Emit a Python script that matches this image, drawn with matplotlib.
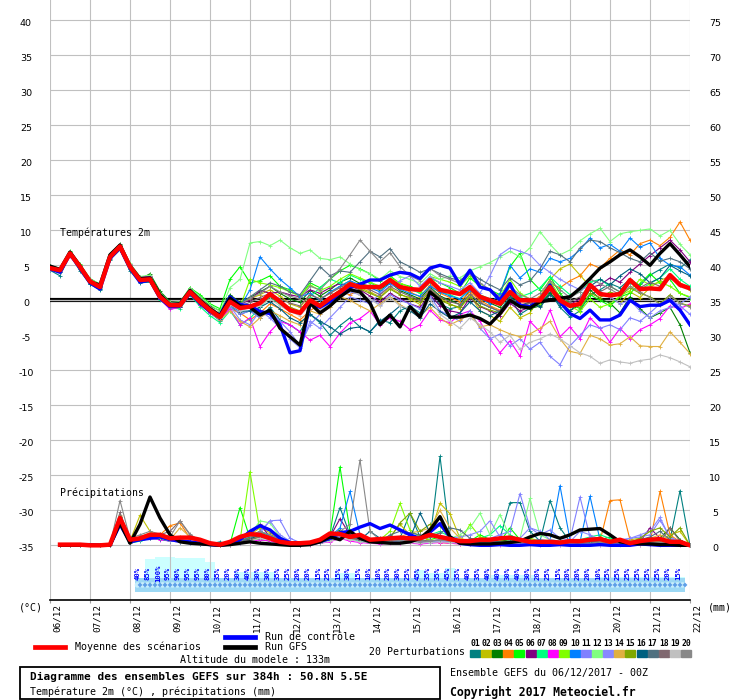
import numpy as np
import matplotlib.pyplot as plt
from matplotlib.lines import Line2D
from matplotlib.patches import Rectangle
from matplotlib.transforms import ScaledTranslation

MONO = "DejaVu Sans Mono"

# time axis: GEFS run of 06/12/2017 00Z, one step every 6h up to 384h
hours = np.arange(0, 385, 6)
rain_hours = hours[1:]
day_hours = np.arange(0, 385, 24)
dates = ["06/12", "07/12", "08/12", "09/12", "10/12", "11/12", "12/12", "13/12", "14/12",
         "15/12", "16/12", "17/12", "18/12", "19/12", "20/12", "21/12", "22/12"]

# temperature 2m (degC)
mean_t = [4.6, 4.3, 6.7, 4.8, 2.7, 1.9, 6.2, 7.7,
          4.8, 2.9, 3.0, 0.5, -0.7, -0.7, 1.2, -0.2,
          -1.4, -2.4, -0.2, -1.1, -0.9, -0.4, 0.9, -0.2,
          -1.4, -1.8, 0.0, -0.8, 0.3, 1.2, 2.3, 1.9,
          1.9, 1.9, 2.9, 1.9, 1.6, 1.5, 2.9, 1.5,
          1.2, 0.9, 1.9, 0.5, 0.0, -0.5, 1.2, 0.0,
          0.0, 0.0, 1.9, 0.0, -0.8, -0.5, 2.2, 0.9,
          0.7, 0.9, 2.9, 1.6, 1.7, 1.6, 3.6, 2.2,
          1.7]
ctrl_t = [4.5, 4.0, 6.6, 4.6, 2.5, 1.6, 6.0, 7.5,
          4.6, 2.6, 2.9, 0.3, -0.9, -0.8, 1.0, -0.4,
          -1.6, -2.1, 0.5, -0.6, -0.8, -1.6, -1.9, -3.5,
          -7.5, -7.2, -0.5, -1.0, -0.2, 1.0, 1.8, 2.3,
          2.9, 2.9, 3.6, 4.0, 3.8, 3.1, 4.6, 5.0,
          4.6, 2.2, 4.3, 1.9, 1.5, 0.0, 2.4, -0.7,
          -0.9, 0.0, 2.2, -0.2, -1.9, -2.6, -1.4, -2.8,
          -2.8, -2.1, 0.0, -0.9, -0.7, -0.7, 0.0, -1.4,
          -3.5]
gfs_t = [4.9, 4.4, 6.9, 4.9, 2.6, 2.2, 6.5, 7.9,
         4.9, 3.1, 3.2, 0.8, -0.6, -0.5, 1.4, 0.0,
         -1.2, -2.2, 0.3, -0.8, -1.0, -2.1, -1.4, -4.0,
         -5.2, -6.4, -0.4, -1.8, -0.8, 0.5, 1.5, 1.2,
         -0.4, -3.5, -2.1, -3.8, -0.9, -2.4, 1.2, 0.0,
         -2.4, -2.4, -2.1, -2.6, -3.4, -1.9, 0.0, -0.9,
         -1.1, -0.2, 0.0, 0.3, 0.5, 1.7, 3.1, 4.6,
         5.5, 6.5, 7.2, 6.2, 5.0, 6.7, 8.1, 6.5,
         4.8]

t01 = [4.3, 3.5, 6.5, 4.2, 2.3, 1.5, 5.8, 7.2,
       4.2, 2.5, 2.6, 0.2, -1.0, -0.9, 0.9, -0.6,
       -1.8, -2.9, -0.8, -2.0, -1.5, -2.5, -1.0, -2.8,
       -3.5, -4.5, -2.0, -3.2, -5.0, -3.6, -2.5, -3.8,
       -4.5, -2.8, -3.2, -1.5, -0.8, -1.8, 0.4, -0.5,
       -1.2, -0.9, 0.8, -0.4, -1.0, -1.6, 0.5, -2.0,
       -1.1, -0.6, 1.2, -1.0, -2.4, -1.5, 0.8, 1.5,
       2.4, 1.8, 3.0, 2.1, 3.6, 4.4, 5.2, 4.6,
       5.8]
t02 = [4.8, 4.5, 6.8, 5.0, 3.0, 2.2, 6.4, 7.9,
       5.0, 3.2, 3.3, 0.8, -0.3, -0.4, 1.5, 0.2,
       -1.0, -2.0, 0.3, -0.6, 0.2, 0.8, 1.5, 0.6,
       -0.5, -1.0, 0.8, 0.2, 1.0, 2.0, 2.8, 1.8,
       1.2, 0.5, 1.8, 0.9, 0.2, -0.6, 1.5, 0.3,
       -0.5, -1.2, 0.8, -1.5, -2.2, -3.0, -1.0, -2.5,
       -1.8, 0.5, 3.0, 4.5, 5.2, 3.6, 2.0, 1.0,
       0.5, -0.5, 1.2, 0.4, 1.8, 2.8, 3.5, 2.5,
       1.5]
t03 = [4.7, 4.2, 6.6, 4.9, 2.8, 2.0, 6.3, 7.6,
       4.7, 3.0, 3.8, 1.3, -0.2, -0.6, 1.8, 0.5,
       -0.8, -1.5, 0.8, -0.3, 0.4, 1.2, 2.0, 1.0,
       0.2, -0.3, 1.4, 0.6, 1.5, 2.6, 3.2, 2.4,
       2.0, 1.5, 2.5, 1.4, 0.8, 0.2, 1.9, 0.6,
       0.0, -0.6, 1.5, 0.2, -0.4, -1.0, 0.8, -0.5,
       -1.2, -0.8, 1.0, -0.2, -1.5, -0.6, 1.5, 0.2,
       -0.4, -1.8, 0.5, -1.2, -2.5, -1.8, -1.0, -3.5,
       -7.5]
t04 = [4.5, 4.4, 6.7, 4.7, 2.6, 1.8, 6.1, 7.7,
       4.9, 2.8, 2.9, 0.4, -0.8, -0.9, 1.0, -0.5,
       -1.5, -2.6, -1.2, -1.8, -2.8, -1.8, -0.5, -1.2,
       -2.0, -2.8, -1.5, -0.5, 0.4, 1.2, 0.8, 1.5,
       2.2, 1.6, 2.8, 1.8, 1.2, 0.5, 2.2, 1.0,
       0.4, -0.2, 1.2, 0.0, -0.8, -1.4, 0.2, -0.6,
       -0.4, 0.6, 2.4, 1.8, 2.8, 3.5, 5.2, 4.6,
       6.0, 7.2, 6.5, 8.1, 8.6, 7.8, 9.0, 11.2,
       8.6]
t05 = [4.9, 4.6, 7.0, 5.2, 3.1, 2.3, 6.6, 8.0,
       5.2, 3.3, 3.5, 0.9, -0.5, -0.3, 1.8, 0.8,
       -0.5, -1.2, 3.0, 4.8, 2.5, 2.8, 3.5, 2.0,
       1.5, 0.5, 2.5, 1.8, 3.0, 4.2, 5.0, 4.5,
       3.8, 2.8, 3.5, 2.4, 2.0, 1.2, 3.2, 2.5,
       1.8, 1.0, 3.2, 2.0, 1.5, 0.8, 4.8, 6.7,
       3.0, 1.5, 3.4, 1.0, -0.5, -1.2, 0.8, 0.0,
       -0.8, 0.5, 1.0, 2.4, 3.8, 2.5, 3.0, 1.0,
       0.4]
t06 = [4.6, 4.2, 6.6, 4.7, 2.7, 1.9, 6.2, 7.6,
       4.8, 2.9, 3.1, 0.6, -0.6, -0.6, 1.3, -0.1,
       -1.2, -2.2, 0.0, -0.5, 0.0, 1.4, 1.0, 1.2,
       0.8, 0.5, 1.5, 1.0, 1.8, 2.4, 2.0, 1.5,
       0.6, -0.2, 1.0, 0.2, -0.5, -1.0, 0.8, -0.8,
       -1.5, -1.8, 0.4, -0.9, -1.5, -2.2, -0.4, -1.5,
       -1.0, -0.2, 1.5, 0.4, -0.6, 0.2, 1.8, 2.2,
       3.2, 2.6, 4.0, 5.2, 6.4, 7.5, 8.6, 7.2,
       5.5]
t07 = [4.4, 4.0, 6.5, 4.5, 2.4, 1.6, 6.0, 7.5,
       4.5, 2.6, 2.7, 0.1, -1.1, -1.2, 0.8, -0.9,
       -2.2, -3.2, -1.5, -3.5, -2.6, -1.0, 0.5, -0.6,
       -1.2, -1.8, 0.5, 1.8, 3.0, 2.5, 3.6, 3.0,
       2.5, 1.8, 3.0, 2.2, 1.6, 1.0, 2.6, 1.2,
       0.8, 0.2, 1.8, 0.8, 0.2, -0.5, 2.0, 0.5,
       1.0, 1.8, 3.4, 2.0, 0.8, 1.2, 2.6, 3.0,
       2.0, 1.2, 2.5, 1.5, 2.4, 3.2, 4.5, 3.0,
       2.0]
t08 = [4.5, 4.1, 6.6, 4.6, 2.5, 1.7, 6.1, 7.6,
       5.2, 3.3, 3.5, 0.2, -1.3, -1.0, 1.0, -0.6,
       -1.8, -2.8, -1.2, -3.5, -2.5, -6.6, -4.5, -3.0,
       -3.5, -4.5, -5.7, -5.0, -6.6, -4.7, -3.2, -2.6,
       -1.5, -3.5, -2.5, -3.0, -4.2, -3.5, -1.4, -2.8,
       -3.2, -2.0, -1.5, -3.0, -5.5, -7.5, -5.8, -8.0,
       -3.0, -4.5, -1.4, -5.2, -3.8, -5.5, -2.5, -4.0,
       -6.0, -4.0, -5.5, -4.2, -3.5, -2.6, -0.8, -1.2,
       -0.5]
t09 = [4.7, 4.4, 6.9, 4.9, 2.8, 2.1, 6.4, 7.8,
       4.9, 3.0, 3.1, 0.6, -0.6, -0.5, 1.4, 0.0,
       -1.3, -2.3, -0.4, -1.0, 3.0, 2.5, 2.2, 1.8,
       1.2, 0.6, 2.2, 1.4, 2.0, 3.0, 3.8, 3.2,
       2.6, 2.0, 3.2, 2.5, 1.8, 1.2, 3.4, 3.0,
       2.6, 2.0, 3.5, 2.4, 1.5, 0.5, 3.0, 1.0,
       0.2, -0.5, 2.8, 0.5, -0.8, -1.6, 0.2, -1.0,
       -0.5, 0.6, 1.4, 3.0, 2.2, 2.6, 2.0, 1.0,
       0.5]
t10 = [4.8, 4.3, 6.8, 4.8, 2.7, 2.0, 6.3, 7.8,
       4.8, 2.9, 3.0, 0.5, -0.6, -0.8, 1.1, -0.3,
       -1.5, -2.5, 0.0, -1.0, 1.5, 6.2, 4.5, 3.0,
       1.8, 0.5, 1.0, 0.0, 1.2, 2.0, 2.8, 2.2,
       1.8, 1.2, 2.4, 1.6, 1.0, 0.6, 2.0, 1.2,
       0.6, 0.2, 1.5, 0.3, -0.5, 1.0, 5.0, 3.2,
       4.5, 4.0, 6.0, 5.5, 6.0, 7.2, 8.9, 7.5,
       8.0, 7.0, 8.9, 7.6, 8.2, 6.0, 5.0, 4.8,
       3.6]
t11 = [4.4, 4.0, 6.4, 4.5, 2.5, 1.7, 6.0, 7.4,
       4.6, 2.7, 2.8, 0.3, -0.9, -0.8, 1.0, -0.4,
       -1.6, -2.6, -0.5, -2.0, -1.5, -2.5, -1.5, -3.0,
       -4.5, -6.5, -3.5, -2.0, -1.0, 0.5, 1.2, 0.8,
       0.2, -0.6, 0.8, 0.0, -0.5, -1.2, 0.6, -1.5,
       -2.2, -3.0, -1.5, -4.0, -5.5, -4.8, -6.5, -5.5,
       -7.0, -6.0, -8.0, -9.2, -6.5, -5.0, -3.5, -4.0,
       -3.5, -4.2, -2.5, -3.0, -1.8, -0.5, 0.2, -0.8,
       -2.0]
t12 = [4.9, 4.6, 7.0, 5.1, 3.0, 2.3, 6.6, 8.1,
       5.3, 3.4, 3.6, 1.0, -0.3, -0.2, 1.8, 0.5,
       -0.6, -1.6, 1.8, 3.0, 8.2, 8.4, 7.8, 8.6,
       7.5, 6.7, 7.2, 6.0, 5.8, 6.2, 5.2, 4.4,
       3.8, 3.0, 4.2, 3.4, 3.0, 2.4, 3.8, 3.0,
       3.5, 3.2, 4.2, 4.8, 5.4, 6.2, 7.0, 6.2,
       7.5, 9.8, 8.0, 6.5, 7.2, 8.5, 9.5, 10.3,
       8.4, 9.5, 9.8, 10.0, 10.2, 9.2, 10.0, 8.0,
       6.5]
t13 = [4.6, 4.2, 6.6, 4.7, 2.6, 1.8, 6.1, 7.6,
       4.7, 2.8, 2.9, 0.4, -0.7, -0.7, 1.1, -0.3,
       -1.4, -2.6, -0.8, -2.8, -3.5, -1.5, -2.5, -4.0,
       -5.5, -6.8, -3.0, -4.0, -2.5, -1.0, 0.5, 0.0,
       -0.5, 1.0, 2.0, 2.8, 3.5, 2.0, 3.4, 2.5,
       2.0, 1.5, 2.5, 1.0, 3.5, 6.5, 7.5, 7.0,
       6.5, 5.0, 4.0, 3.0, 2.2, 1.5, 2.0, 1.0,
       0.5, -0.5, 0.0, -1.5, -2.5, -1.5, -1.0, -0.5,
       0.5]
t14 = [4.5, 4.2, 6.6, 4.6, 2.6, 1.8, 6.2, 7.7,
       4.7, 2.8, 2.8, 0.3, -0.9, -0.8, 1.0, -0.4,
       -1.7, -2.8, -1.5, -3.0, -3.8, -2.5, -1.5, -2.2,
       -3.0, -3.5, -1.5, -2.0, -1.0, 0.5, 0.0, -0.8,
       -1.5, -0.5, 0.5, -0.6, -1.5, -2.2, -1.0, -2.5,
       -3.5, -2.8, -2.0, -3.8, -3.5, -4.2, -4.8, -5.2,
       -4.8, -4.0, -3.0, -5.5, -7.3, -7.6, -5.0, -5.5,
       -6.4, -6.2, -5.2, -6.5, -6.6, -6.6, -4.5, -6.0,
       -7.6]
t15 = [4.6, 4.3, 6.7, 4.8, 2.7, 1.9, 6.2, 7.7,
       4.8, 2.9, 3.0, 0.5, -0.7, -0.7, 1.2, -0.2,
       -1.3, -2.4, -0.3, -1.2, -0.8, -0.3, 0.6, -0.4,
       -1.0, -1.5, 0.2, -0.5, 0.5, 1.5, 2.2, 1.6,
       1.0, 0.4, 1.6, 0.8, 0.4, -0.2, 1.2, 0.0,
       -0.6, -1.0, 0.5, -0.8, -1.4, -1.8, 0.2, -1.0,
       -0.4, 0.2, 1.6, 0.3, -0.5, -1.0, 1.0, 0.4,
       1.2, 0.6, 1.8, 1.0, 0.5, -0.5, 0.8, -0.4,
       -0.8]
t16 = [4.5, 4.0, 6.5, 4.5, 2.4, 1.6, 5.9, 7.4,
       4.5, 2.6, 2.7, 0.2, -1.0, -1.0, 0.9, -0.5,
       -1.7, -2.7, -0.6, -1.6, -1.5, -1.0, -0.2, -1.2,
       -2.5, -3.2, -2.0, -3.0, -3.8, -4.8, -4.0, -3.8,
       -4.5, -3.0, -2.0, -0.8, -1.5, -2.5, -0.5, -1.6,
       -2.5, -1.8, -0.2, -1.5, -2.2, -1.5, 0.5, -0.8,
       -0.2, -1.0, 0.8, -0.6, -1.5, -0.2, 2.0, 3.0,
       2.2, 3.5, 4.5, 3.8, 2.5, 3.2, 5.0, 4.2,
       3.5]
t17 = [4.7, 4.4, 6.8, 5.0, 2.9, 2.1, 6.4, 7.9,
       5.0, 3.1, 3.2, 0.7, -0.5, -0.4, 1.5, 0.2,
       -1.0, -2.0, 0.5, -0.5, 0.5, 1.5, 2.5, 2.0,
       1.2, 0.8, 2.8, 4.8, 3.5, 4.2, 4.0, 5.5,
       7.0, 6.2, 7.4, 5.5, 4.8, 4.0, 4.5, 3.8,
       3.2, 2.8, 4.0, 3.0, 2.2, 1.5, 3.2, 2.2,
       2.8, 4.5, 7.0, 6.5, 5.5, 7.5, 8.6, 8.4,
       7.5, 6.8, 6.0, 5.5, 6.8, 5.6, 6.0, 5.5,
       4.5]
t18 = [4.6, 4.3, 6.7, 4.7, 2.7, 1.9, 6.2, 7.7,
       4.8, 2.9, 3.0, 0.5, -0.7, -0.7, 1.2, -0.2,
       -1.2, -2.4, 0.2, -0.8, -0.3, 0.4, 1.0, 0.2,
       -0.4, -0.8, 0.8, 0.2, 1.0, 1.8, 2.6, 2.0,
       1.5, 0.8, 2.0, 1.2, 0.6, 0.0, 1.6, 0.5,
       -0.2, -0.6, 0.9, -0.3, -1.0, -1.6, 0.2, -0.8,
       -0.4, 0.4, 1.8, 0.6, -0.2, 0.5, 2.2, 1.2,
       2.0, 1.2, 2.8, 1.8, 2.6, 2.0, 3.2, 2.2,
       1.6]
t19 = [4.5, 4.2, 6.6, 4.6, 2.6, 1.8, 6.1, 7.6,
       4.7, 2.8, 2.9, 0.4, -0.8, -0.8, 1.1, -0.3,
       -1.5, -2.5, -0.6, -1.5, -1.0, -0.8, 0.2, -0.8,
       -1.6, -2.2, -0.6, -1.4, -0.5, 0.6, 1.4, 0.8,
       0.2, -0.8, 0.4, -0.8, -1.2, -2.4, 0.2, -2.0,
       -3.0, -4.0, -2.5, -3.5, -4.5, -6.0, -5.0, -7.0,
       -6.0, -5.5, -4.8, -5.5, -6.5, -7.5, -8.0, -9.0,
       -8.5, -8.8, -9.0, -8.6, -8.4, -7.8, -8.2, -8.8,
       -9.5]
t20 = [4.8, 4.6, 6.9, 5.1, 3.0, 2.2, 6.5, 8.1,
       5.1, 3.2, 3.3, 0.8, -0.4, -0.3, 1.6, 0.3,
       -0.9, -2.0, 0.4, -0.6, 0.3, 1.0, 2.0, 1.2,
       0.6, 0.2, 2.0, 1.5, 3.0, 4.5, 6.5, 8.6,
       7.0, 5.5, 6.8, 4.8, 3.5, 2.8, 4.6, 3.5,
       3.0, 2.4, 3.8, 2.5, 1.5, 0.5, 2.0, 0.8,
       0.2, 1.0, 2.8, 1.5, 0.4, 1.2, 3.0, 2.4,
       1.6, 0.8, 2.0, 1.2, 0.4, -0.6, 0.6, -0.4,
       -1.0]

# precipitation over the previous 6h (mm)
mean_p = [0.1, 0.1, 0.1, 0.0, 0.0, 0.1, 3.9, 0.8,
          1.0, 1.5, 1.5, 1.0, 1.1, 1.1, 0.8, 0.3,
          0.1, 0.5, 1.2, 1.6, 1.5, 1.0, 0.5, 0.3,
          0.3, 0.4, 0.8, 1.7, 1.6, 1.2, 1.5, 0.8,
          0.9, 1.0, 1.1, 1.0, 1.0, 1.5, 1.2, 0.9,
          0.6, 0.6, 0.8, 0.8, 1.0, 1.1, 0.8, 0.5,
          0.5, 0.5, 0.4, 0.6, 0.6, 0.8, 0.9, 0.5,
          0.8, 0.3, 0.6, 0.8, 0.9, 0.5, 0.5, 0.0]
ctrl_p = [0.0, 0.0, 0.1, 0.1, 0.0, 0.0, 3.0, 0.5,
          0.8, 1.0, 1.2, 0.8, 0.6, 0.5, 0.3, 0.1,
          0.0, 0.2, 0.8, 2.0, 2.8, 2.2, 1.0, 0.4,
          0.2, 0.2, 0.5, 1.0, 1.8, 2.0, 2.6, 3.1,
          2.4, 2.9, 2.2, 1.5, 1.0, 1.9, 3.1, 1.2,
          0.3, 0.1, 0.0, 0.0, 0.1, 0.0, 0.0, 0.1,
          0.0, 0.0, 0.1, 0.0, 0.0, 0.0, 0.1, 0.0,
          0.0, 0.0, 0.2, 0.1, 0.0, 0.0, 0.0, 0.0]
gfs_p = [0.0, 0.0, 0.0, 0.0, 0.0, 0.0, 3.2, 0.3,
         3.0, 6.9, 3.9, 1.5, 0.5, 0.3, 0.2, 0.1,
         0.0, 0.1, 0.3, 0.5, 0.3, 0.2, 0.1, 0.0,
         0.0, 0.1, 0.5, 1.2, 0.8, 2.0, 1.0, 0.5,
         0.4, 0.3, 0.3, 0.5, 1.0, 2.2, 4.1, 1.2,
         0.3, 0.2, 0.2, 0.2, 0.3, 0.4, 0.6, 1.2,
         1.7, 1.5, 1.0, 1.5, 2.2, 2.3, 2.4, 1.5,
         0.5, 0.3, 0.2, 0.2, 0.1, 0.1, 0.0, 0.0]

p01 = [0, 0, 0.1, 0, 0, 0, 3.5, 0.4,
       0.8, 1.2, 1.0, 0.6, 0.8, 0.5, 0.3, 0.2,
       0.5, 0.1, 0.4, 1.0, 1.2, 0.8, 0.3, 0.2,
       0.1, 0.4, 0.6, 1.2, 5.4, 1.5, 0.8, 0.5,
       0.3, 0.8, 1.0, 4.6, 1.2, 0.8, 12.7, 1.0,
       0.5, 0.3, 0.4, 0.6, 1.0, 6.1, 6.1, 2.0,
       0.6, 6.4, 2.5, 0.5, 0.3, 0.4, 0.6, 0.8,
       0.4, 0.3, 0.5, 0.2, 0.3, 0.8, 7.8, 0.0]
p02 = [0, 0, 0, 0, 0, 0, 4.0, 0.6,
       4.3, 2.0, 1.0, 0.8, 1.2, 0.9, 0.6, 0.3,
       0.1, 0.2, 0.8, 1.5, 2.5, 1.8, 0.6, 0.2,
       0.1, 0.2, 0.6, 1.0, 2.0, 1.5, 1.2, 0.6,
       0.8, 1.2, 3.0, 1.5, 1.0, 1.5, 6.0, 4.5,
       1.0, 0.5, 0.3, 0.6, 0.5, 0.2, 0.4, 0.8,
       0.4, 0.2, 0.3, 0.5, 0.4, 0.6, 0.3, 0.5,
       0.2, 0.8, 1.0, 0.5, 0.6, 1.5, 2.0, 0.0]
p03 = [0, 0, 0, 0, 0, 0, 3.4, 0.5,
       1.0, 1.6, 1.3, 0.7, 0.5, 0.4, 0.2, 0.1,
       0.0, 0.3, 0.6, 1.0, 1.8, 1.5, 0.7, 0.3,
       0.2, 0.2, 0.5, 1.0, 2.2, 1.0, 0.6, 0.3,
       0.5, 0.8, 1.2, 1.0, 0.8, 0.5, 0.6, 0.4,
       0.3, 0.2, 0.5, 0.4, 0.6, 0.8, 0.4, 0.3,
       0.2, 0.5, 0.3, 0.2, 0.4, 0.3, 0.8, 1.2,
       0.5, 0.3, 0.4, 0.2, 1.0, 2.5, 0.8, 0.0]
p04 = [0, 0, 0, 0, 0, 0, 4.2, 0.6,
       1.2, 1.8, 1.5, 2.8, 3.2, 1.0, 0.4, 0.2,
       0.1, 0.2, 0.5, 0.8, 1.2, 1.0, 0.5, 0.3,
       0.2, 0.3, 0.6, 1.4, 2.0, 1.2, 1.0, 0.8,
       0.5, 0.6, 1.0, 0.8, 1.4, 0.6, 0.4, 0.3,
       0.2, 0.4, 0.3, 0.2, 0.5, 0.4, 0.6, 0.5,
       0.3, 0.2, 0.4, 0.3, 0.5, 0.4, 0.6, 6.4,
       6.5, 0.8, 0.5, 0.4, 7.7, 1.5, 0.5, 0.0]
p05 = [0, 0, 0, 0, 0, 0, 3.8, 0.4,
       0.8, 1.0, 1.2, 0.8, 0.6, 0.4, 0.3, 0.1,
       0.0, 0.2, 5.4, 1.0, 0.8, 0.6, 0.4, 0.2,
       0.1, 0.3, 0.6, 1.5, 11.2, 2.0, 1.0, 0.6,
       0.4, 0.6, 0.8, 0.6, 0.5, 0.8, 1.2, 1.0,
       0.8, 0.6, 1.5, 0.8, 0.5, 2.5, 0.8, 0.6,
       0.3, 0.5, 0.4, 0.3, 0.6, 0.8, 0.5, 0.4,
       0.3, 0.6, 0.4, 0.8, 0.5, 0.4, 0.3, 0.0]
p06 = [0, 0, 0, 0, 0, 0, 3.6, 0.5,
       0.9, 1.3, 1.1, 0.7, 0.6, 0.5, 0.3, 0.1,
       0.0, 0.2, 0.8, 1.5, 3.0, 1.2, 0.5, 0.2,
       0.1, 0.2, 0.5, 1.2, 3.8, 1.5, 0.8, 0.5,
       0.3, 0.5, 0.7, 0.6, 0.5, 0.4, 0.6, 0.5,
       0.4, 0.3, 0.5, 0.4, 0.3, 0.5, 0.4, 0.3,
       0.2, 0.4, 0.3, 0.2, 0.5, 0.4, 0.6, 0.5,
       0.4, 0.3, 0.5, 2.5, 1.0, 0.5, 0.3, 0.0]
p07 = [0, 0, 0, 0, 0, 0, 3.2, 0.3,
       0.6, 1.0, 1.4, 0.8, 0.5, 0.3, 0.2, 0.1,
       0.0, 0.2, 0.4, 0.8, 1.5, 1.2, 0.8, 0.4,
       0.2, 0.2, 0.4, 0.8, 1.5, 1.0, 0.6, 0.4,
       0.3, 0.5, 0.8, 1.0, 1.2, 1.5, 2.0, 1.2,
       0.8, 0.6, 1.0, 1.5, 2.8, 1.5, 0.8, 0.5,
       0.4, 0.6, 0.5, 0.4, 0.8, 1.2, 1.5, 1.0,
       0.6, 0.4, 0.3, 0.5, 0.8, 0.6, 0.4, 0.0]
p08 = [0, 0, 0, 0, 0, 0, 3.5, 0.4,
       0.7, 1.0, 0.8, 0.6, 0.5, 0.4, 0.2, 0.1,
       0.0, 0.1, 0.3, 0.5, 0.8, 0.6, 0.3, 0.2,
       0.1, 0.1, 0.3, 0.5, 1.0, 0.6, 0.4, 0.3,
       0.2, 0.3, 0.4, 0.3, 0.2, 0.3, 0.4, 0.3,
       0.2, 0.2, 0.3, 0.2, 0.1, 0.2, 0.3, 0.2,
       0.1, 0.2, 0.1, 0.2, 0.3, 0.2, 0.1, 0.2,
       0.3, 0.2, 0.1, 0.2, 0.3, 0.2, 0.1, 0.0]
p09 = [0, 0, 0, 0, 0, 0, 3.9, 0.5,
       0.9, 1.4, 1.2, 0.8, 0.6, 0.5, 0.3, 0.2,
       0.1, 0.3, 0.6, 10.5, 2.0, 1.0, 0.5, 0.3,
       0.2, 0.3, 0.5, 1.0, 1.8, 1.2, 0.8, 0.6,
       0.8, 2.0, 6.0, 2.2, 1.2, 0.8, 0.6, 0.6,
       0.5, 3.0, 1.2, 0.8, 0.6, 0.5, 0.8, 1.0,
       0.6, 0.5, 0.4, 0.6, 0.5, 0.4, 0.6, 0.8,
       0.5, 0.4, 0.6, 0.5, 0.4, 0.3, 0.5, 0.0]
p10 = [0, 0, 0, 0, 0, 0, 3.7, 0.5,
       0.8, 1.1, 1.0, 0.7, 0.5, 0.4, 0.3, 0.1,
       0.0, 0.2, 0.6, 1.2, 2.0, 1.4, 0.6, 0.3,
       0.2, 0.2, 0.5, 1.2, 2.5, 7.7, 1.5, 0.6,
       0.4, 0.5, 0.6, 0.8, 0.6, 0.5, 0.7, 0.5,
       0.4, 0.3, 0.5, 0.6, 0.4, 0.5, 0.8, 0.6,
       0.8, 0.6, 8.5, 0.8, 0.5, 7.0, 0.8, 0.5,
       0.4, 0.3, 0.5, 0.6, 0.4, 0.5, 0.3, 0.0]
p11 = [0, 0, 0, 0, 0, 0, 3.4, 0.4,
       0.7, 1.0, 0.9, 0.6, 0.5, 0.4, 0.2, 0.1,
       0.0, 0.2, 0.5, 1.0, 1.8, 3.5, 3.6, 1.0,
       0.4, 0.3, 0.5, 0.8, 1.2, 1.0, 0.8, 0.6,
       0.5, 0.6, 0.8, 0.6, 0.5, 0.4, 0.6, 0.5,
       0.4, 0.5, 0.8, 1.0, 1.5, 2.0, 7.4, 2.5,
       1.5, 2.2, 1.0, 0.8, 6.9, 1.2, 0.8, 0.6,
       0.5, 1.0, 1.2, 1.5, 3.6, 1.2, 0.5, 0.0]
p12 = [0, 0, 0, 0, 0, 0, 3.8, 0.5,
       0.9, 1.2, 1.6, 1.0, 0.8, 0.5, 0.3, 0.2,
       0.1, 0.2, 0.5, 1.5, 3.5, 3.2, 1.2, 0.5,
       0.3, 0.2, 0.4, 0.8, 1.5, 1.0, 0.8, 0.6,
       0.6, 0.8, 1.2, 1.0, 0.8, 0.6, 0.8, 1.0,
       1.5, 2.5, 4.6, 1.5, 4.4, 1.2, 1.0, 6.7,
       1.5, 0.8, 0.6, 0.5, 0.8, 0.6, 0.5, 0.4,
       0.6, 0.5, 0.4, 0.6, 0.5, 0.4, 0.3, 0.0]
p13 = [0, 0, 0, 0, 0, 0, 3.6, 0.4,
       0.8, 1.2, 1.0, 0.6, 0.5, 0.4, 0.2, 0.1,
       0.0, 0.2, 0.6, 1.2, 2.0, 3.5, 1.5, 0.6,
       0.3, 0.2, 0.4, 0.8, 1.4, 1.0, 0.7, 0.5,
       0.4, 0.5, 0.7, 0.6, 0.5, 0.6, 0.8, 1.0,
       1.2, 1.5, 2.0, 3.5, 1.2, 0.8, 1.0, 2.5,
       2.0, 0.8, 0.6, 0.5, 2.0, 1.5, 0.8, 0.6,
       0.8, 1.0, 1.5, 2.0, 4.0, 1.0, 0.5, 0.0]
p14 = [0, 0, 0, 0, 0, 0, 4.4, 0.6,
       1.0, 1.5, 1.3, 0.8, 2.5, 1.2, 0.4, 0.2,
       0.1, 0.2, 0.5, 0.9, 1.4, 1.0, 0.5, 0.3,
       0.2, 0.3, 0.5, 1.0, 1.5, 1.0, 0.8, 0.6,
       0.5, 0.8, 1.2, 1.8, 2.0, 2.5, 5.0, 2.5,
       1.0, 0.6, 0.5, 0.4, 0.5, 0.4, 0.3, 0.5,
       0.4, 0.3, 0.5, 0.4, 0.3, 0.5, 0.4, 0.3,
       0.4, 0.6, 0.5, 1.0, 1.5, 0.8, 0.4, 0.0]
p15 = [0, 0, 0, 0, 0, 0, 4.0, 0.5,
       0.9, 1.3, 1.1, 0.7, 0.6, 0.5, 0.3, 0.1,
       0.0, 0.2, 0.6, 1.1, 1.6, 1.2, 0.6, 0.3,
       0.2, 0.2, 0.5, 1.0, 1.8, 1.2, 0.8, 0.6,
       0.6, 1.0, 3.2, 4.6, 2.0, 3.0, 2.8, 1.0,
       0.6, 0.4, 0.6, 0.5, 0.4, 0.6, 0.5, 0.4,
       0.3, 0.4, 0.5, 0.6, 0.4, 0.8, 1.2, 0.6,
       0.5, 0.4, 1.0, 2.0, 2.5, 1.2, 2.5, 0.0]
p16 = [0, 0, 0, 0, 0, 0, 3.3, 0.4,
       0.7, 1.0, 0.9, 0.6, 0.5, 0.4, 0.2, 0.1,
       0.0, 0.2, 0.5, 0.9, 1.5, 1.2, 0.6, 0.3,
       0.1, 0.2, 0.4, 0.8, 1.6, 1.2, 0.8, 2.0,
       1.0, 0.8, 1.2, 1.0, 4.6, 1.8, 1.0, 0.8,
       0.6, 0.5, 0.6, 0.5, 0.4, 0.5, 0.6, 0.4,
       0.3, 0.2, 0.3, 0.4, 0.3, 0.5, 0.4, 0.3,
       0.4, 0.3, 0.5, 0.4, 0.3, 0.4, 0.3, 0.0]
p17 = [0, 0, 0, 0, 0, 0, 4.1, 0.6,
       1.0, 1.5, 1.2, 0.8, 0.7, 0.5, 0.3, 0.2,
       0.1, 0.2, 0.6, 1.2, 1.5, 1.2, 0.8, 0.4,
       0.3, 0.2, 0.5, 1.0, 1.5, 1.2, 0.8, 0.6,
       0.5, 1.5, 2.0, 1.8, 1.5, 1.2, 1.8, 2.5,
       2.2, 1.0, 0.8, 0.6, 0.5, 0.4, 0.6, 0.5,
       0.4, 0.3, 0.5, 0.4, 0.3, 0.6, 0.5, 0.4,
       0.3, 0.5, 0.8, 1.2, 2.0, 0.8, 0.5, 0.0]
p18 = [0, 0, 0, 0, 0, 0, 4.7, 0.8,
       1.2, 1.5, 1.5, 2.0, 3.5, 1.5, 0.6, 0.3,
       0.1, 0.2, 0.5, 0.8, 1.2, 1.0, 0.5, 0.3,
       0.2, 0.2, 0.5, 1.0, 1.5, 1.0, 0.8, 0.6,
       0.5, 0.6, 0.8, 1.0, 0.8, 0.6, 0.8, 0.6,
       0.5, 0.4, 0.5, 0.4, 0.3, 0.4, 0.3, 0.2,
       0.3, 0.2, 0.3, 0.4, 0.3, 0.2, 0.3, 0.4,
       0.3, 0.2, 0.4, 0.3, 0.5, 2.5, 0.6, 0.0]
p19 = [0, 0, 0, 0, 0, 0, 3.6, 0.4,
       0.8, 1.1, 1.0, 0.6, 0.5, 0.4, 0.2, 0.1,
       0.0, 0.1, 0.3, 0.6, 1.0, 0.8, 0.4, 0.2,
       0.1, 0.2, 0.3, 0.6, 1.0, 0.8, 0.5, 0.4,
       0.3, 0.4, 0.5, 0.4, 0.3, 0.4, 0.5, 0.4,
       0.3, 0.2, 0.3, 0.2, 0.2, 0.3, 0.2, 0.2,
       0.1, 0.2, 0.1, 0.2, 0.1, 0.2, 0.1, 0.2,
       0.1, 0.2, 0.1, 0.2, 0.1, 0.2, 0.1, 0.0]
p20 = [0, 0, 0, 0, 0, 0, 6.4, 1.0,
       1.5, 2.0, 1.6, 1.2, 3.5, 1.6, 0.6, 0.3,
       0.1, 0.3, 0.8, 1.4, 2.0, 1.5, 0.8, 0.4,
       0.2, 0.3, 0.5, 1.2, 2.0, 3.0, 12.2, 2.0,
       0.8, 0.6, 0.8, 0.6, 0.5, 0.6, 0.8, 0.6,
       0.5, 0.4, 0.5, 0.4, 0.3, 0.4, 0.5, 0.4,
       0.3, 0.4, 0.3, 0.5, 0.4, 0.3, 0.5, 0.4,
       0.3, 0.4, 0.3, 0.5, 0.4, 0.3, 0.4, 0.0]

member_t = [t01, t02, t03, t04, t05, t06, t07, t08, t09, t10,
            t11, t12, t13, t14, t15, t16, t17, t18, t19, t20]
member_p = [p01, p02, p03, p04, p05, p06, p07, p08, p09, p10,
            p11, p12, p13, p14, p15, p16, p17, p18, p19, p20]
member_names = ["01", "02", "03", "04", "05", "06", "07", "08", "09", "10",
                "11", "12", "13", "14", "15", "16", "17", "18", "19", "20"]
member_colors = ["#008080", "#c0c000", "#008000", "#ff8000", "#00ff00",
                 "#800080", "#00ff80", "#ff00ff", "#80ff00", "#0080ff",
                 "#8080ff", "#80ff80", "#8888ff", "#e0b040", "#80a800",
                 "#006080", "#507080", "#806870", "#c0c0c0", "#888888"]

# probability row (one label per 6h step from 54h to 378h)
prob_pct = [40, 85, 100, 95, 90, 95, 95, 80, 35, 20, 30, 40, 30, 30, 35, 25,
            20, 20, 15, 25, 15, 30, 15, 10, 10, 20, 30, 25, 45, 35, 35, 45,
            35, 40, 35, 40, 40, 30, 40, 30, 20, 25, 15, 20, 20, 20, 10, 25,
            25, 25, 25, 25, 25, 20, 15]
prob_shade = [0, 91, 100, 100, 96, 98, 98, 78, 0, 0, 35, 35, 35, 35, 0, 0,
              0, 0, 0, 0, 30, 30, 0, 0, 0, 0, 0, 0, 43, 30, 30, 52,
              0, 0, 0, 22, 22, 22, 22, 22, 0, 0, 0, 0, 0, 0, 13, 13,
              13, 13, 13, 13, 13, 13, 13]
prob_hours = hours[9:64]

RAIN_ZERO = -35  # precipitation curves are drawn on the -35 degC line


def fx(x):
    return x / 740


def fy(y):
    return 1 - y / 700


fig = plt.figure(figsize=(7.4, 7.0), dpi=100)
ax = fig.add_axes([50 / 740, 100 / 700, 640 / 740, 600 / 700])
ax.set_xlim(0, 384)
ax.set_ylim(-42.81, 42.9)
ax.set_axisbelow(True)

for s in ["top", "left", "right"]:
    ax.spines[s].set_visible(False)
ax.spines["bottom"].set_color("black")
ax.spines["bottom"].set_linewidth(1.2)

yt = list(range(-35, 41, 5))
ax.set_yticks(yt)
ax.set_yticklabels([str(v) for v in yt], fontsize=6.8, family="DejaVu Sans")
ax.set_xticks(day_hours)
ax.set_xticklabels(dates, rotation=90, fontsize=6.7, family=MONO)
ax.grid(True, color="#c0c0c0", lw=0.8)
ax.tick_params(axis="y", length=0, pad=17.3)
ax.tick_params(axis="x", length=2.5, color="#a0a0a0", pad=0.6)

sec = ax.secondary_yaxis("right", functions=(lambda v: v + 35, lambda r: r - 35))
sec.set_yticks(list(range(0, 76, 5)))
sec.set_yticklabels([str(v) for v in range(0, 76, 5)], fontsize=6.8, family="DejaVu Sans")
sec.tick_params(length=0, pad=18)
sec.spines["right"].set_visible(False)

down = ScaledTranslation(0, -2 / 100, fig.dpi_scale_trans)
for lab in ax.get_yticklabels():
    lab.set_horizontalalignment("center")
    lab.set_transform(lab.get_transform() + down)
for lab in sec.get_yticklabels():
    lab.set_horizontalalignment("center")
    lab.set_transform(lab.get_transform() + down)
right_shift = ScaledTranslation(7 / 100, 0, fig.dpi_scale_trans)
for lab in ax.get_xticklabels():
    lab.set_transform(lab.get_transform() + right_shift)

# 0 degC line
ax.axhline(0, color="black", lw=3.0, zorder=1.6)
ax.axhline(0, color="#b8b8b8", lw=0.9, zorder=1.7)

# ensemble members
for t, p, c in zip(member_t, member_p, member_colors):
    ax.plot(hours, t, color=c, lw=0.8, marker="+", ms=3, mew=0.6, zorder=2)
    ax.plot(rain_hours, RAIN_ZERO + np.array(p), color=c, lw=0.8,
            marker="+", ms=3, mew=0.6, zorder=2)

ax.plot(hours, ctrl_t, color="#0000ff", lw=2.4, zorder=3)
ax.plot(rain_hours, RAIN_ZERO + np.array(ctrl_p), color="#0000ff", lw=2.4, zorder=3)
ax.plot(hours, gfs_t, color="black", lw=2.4, zorder=3.1)
ax.plot(rain_hours, RAIN_ZERO + np.array(gfs_p), color="black", lw=2.4, zorder=3.1)
ax.plot(hours, mean_t, color="#ff0000", lw=3.2, zorder=3.2)
ax.plot(rain_hours, RAIN_ZERO + np.array(mean_p), color="#ff0000", lw=3.2, zorder=3.2)

ax.text(6, 9.6, "Températures 2m", family=MONO, fontsize=7.1, va="center", zorder=4)
ax.text(6, -27.5, "Précipitations", family=MONO, fontsize=7.1, va="center", zorder=4)

# probability row under the curves
ax.bar(prob_hours, np.array(prob_shade) * 0.0329, bottom=-40.0, width=6,
       color="#ccffff", linewidth=0, zorder=0.3)
band_x = [prob_hours[0] - 3, prob_hours[-1] + 3]
ax.fill_between(band_x, -41.66, -39.66, color="#9cd8f4", lw=0, zorder=3.5)
dots = np.arange(band_x[0] + 1.5, band_x[1], 3)
ax.scatter(dots, np.full(len(dots), -40.66), s=16, marker="o",
           color="#c8eefc", edgecolors="none", zorder=3.6)
ax.scatter(dots + 1.5, np.full(len(dots), -40.66), s=6, marker="D",
           color="#5e9ee8", edgecolors="none", zorder=3.7)
lab_trans = ax.transData + ScaledTranslation(-2 / 100, 0, fig.dpi_scale_trans)
for h, p in zip(prob_hours, prob_pct):
    ax.text(h, -38.96, f"{p}%", rotation=90, ha="center", va="center",
            color="#0000ff", fontsize=5.2, family=MONO, fontweight="bold",
            transform=lab_trans, zorder=5)

# units
fig.text(fx(31), fy(607), "(°C)", family=MONO, fontsize=7.2, ha="center", va="center")
fig.text(fx(720), fy(607), "(mm)", family=MONO, fontsize=7.2, ha="center", va="center")

# legend
fig.add_artist(Line2D([fx(35), fx(65)], [fy(647), fy(647)], color="#ff0000", lw=3.4))
fig.text(fx(75), fy(647), "Moyenne des scénarios", family=MONO, fontsize=7.2, va="center")
fig.add_artist(Line2D([fx(225), fx(255)], [fy(637), fy(637)], color="#0000ff", lw=3.4))
fig.text(fx(265), fy(637.5), "Run de contrôle", family=MONO, fontsize=7.2, va="center")
fig.add_artist(Line2D([fx(225), fx(255)], [fy(647), fy(647)], color="black", lw=3.4))
fig.text(fx(265), fy(647.5), "Run GFS", family=MONO, fontsize=7.2, va="center")
fig.text(fx(180), fy(660), "Altitude du modele : 133m", family=MONO, fontsize=7.2, va="center")

fig.text(fx(369), fy(652), "20 Perturbations", family=MONO, fontsize=7.1, va="center")
for i, (name, c) in enumerate(zip(member_names, member_colors)):
    x0 = 470 + i * 11.1
    fig.add_artist(Rectangle((fx(x0), fy(657)), 10 / 740, 7 / 700, color=c,
                             transform=fig.transFigure))
    fig.text(fx(x0 + 5), fy(644), name, family=MONO, fontsize=5.8,
             fontweight="bold", ha="center", va="center")

fig.add_artist(Rectangle((fx(20), fy(699)), 420 / 740, 32 / 700, fill=False,
                         edgecolor="black", lw=1.3, transform=fig.transFigure))
fig.text(fx(30), fy(677), "Diagramme des ensembles GEFS sur 384h : 50.8N 5.5E",
         family=MONO, fontsize=8.0, fontweight="bold", va="center")
fig.text(fx(30), fy(692), "Température 2m (°C) , précipitations (mm)",
         family=MONO, fontsize=7.2, va="center")
fig.text(fx(450), fy(673), "Ensemble GEFS du 06/12/2017 - 00Z",
         family=MONO, fontsize=7.2, va="center")
fig.text(fx(450), fy(692), "Copyright 2017 Meteociel.fr",
         family=MONO, fontsize=8.3, fontweight="bold", va="center")

fig.savefig("out.png", dpi=100, facecolor="white")
